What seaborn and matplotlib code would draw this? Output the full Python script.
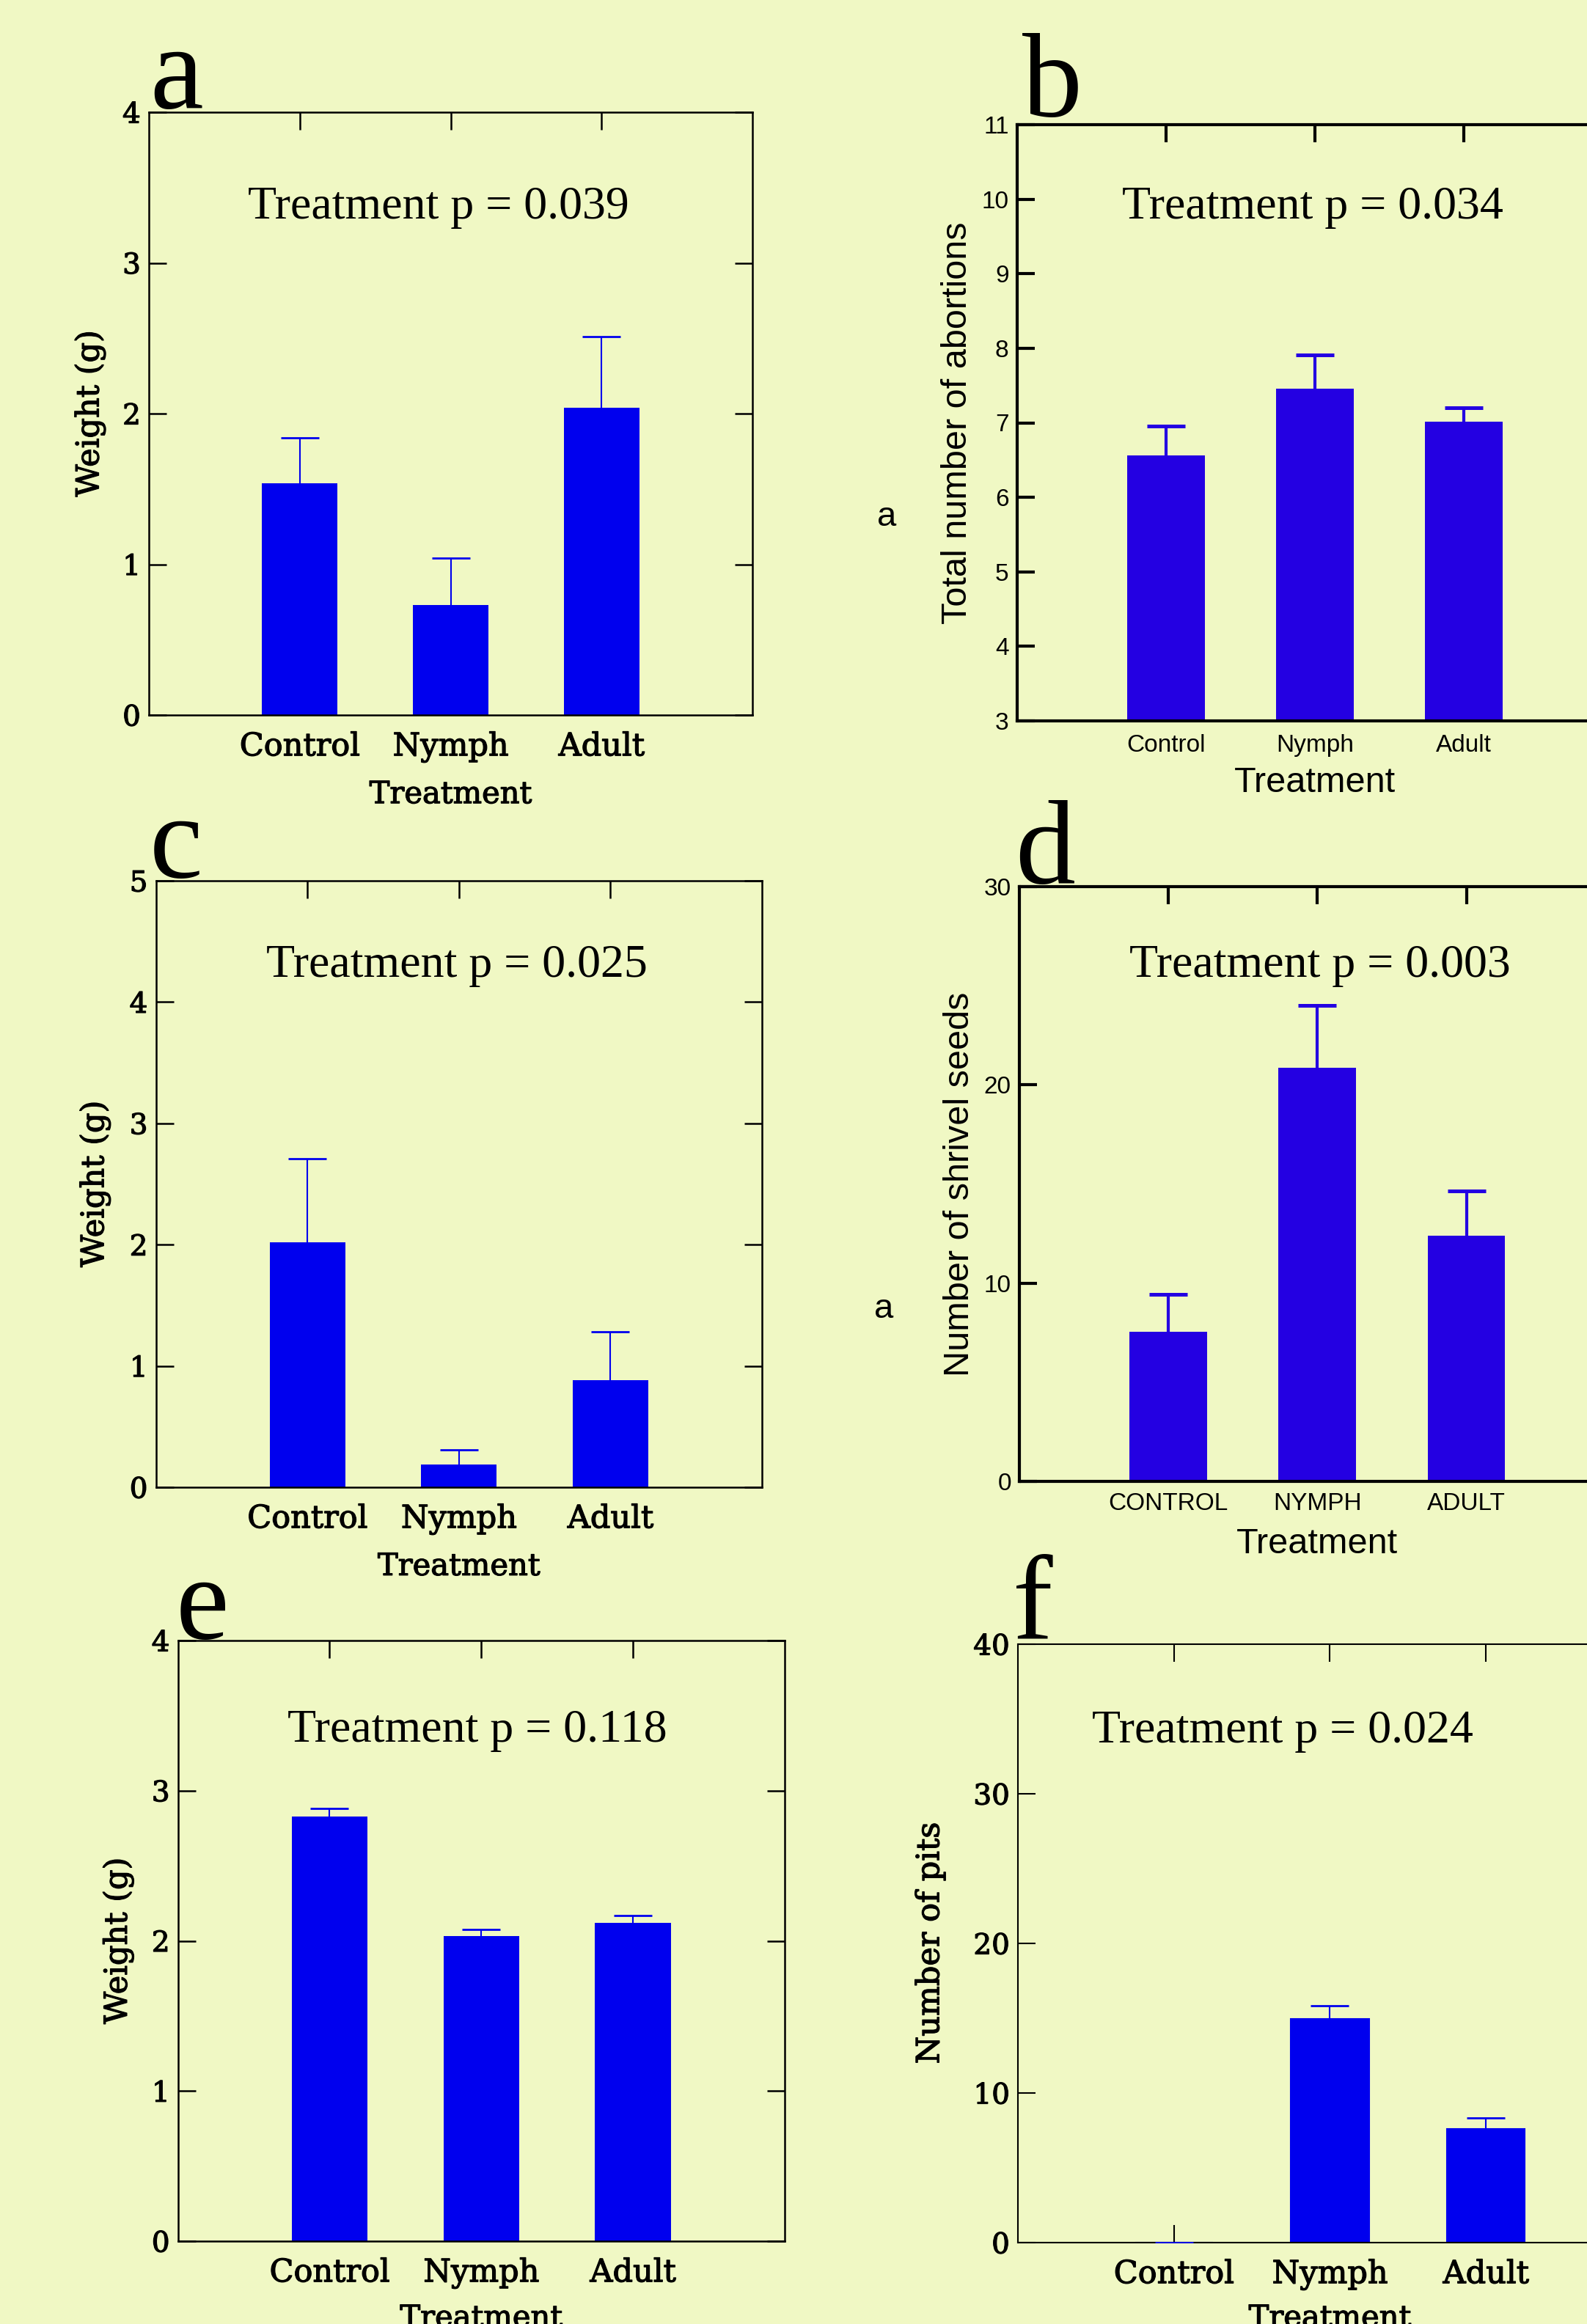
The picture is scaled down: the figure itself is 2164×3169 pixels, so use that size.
import matplotlib
matplotlib.use("Agg")
import matplotlib.pyplot as plt
import matplotlib.patheffects as pe
import seaborn as sns

# ---------------- data ----------------
treatments = ["Control", "Nymph", "Adult"]
treatments_caps = ["CONTROL", "NYMPH", "ADULT"]

a_mean = [1.54, 0.73, 2.04]
a_se = [0.30, 0.31, 0.47]
b_mean = [6.56, 7.46, 7.01]
b_se = [0.40, 0.45, 0.19]
c_mean = [2.02, 0.19, 0.88]
c_se = [0.69, 0.12, 0.40]
d_mean = [7.53, 20.87, 12.38]
d_se = [1.89, 3.13, 2.28]
e_mean = [2.83, 2.03, 2.12]
e_se = [0.05, 0.045, 0.05]
f_mean = [0.0, 14.95, 7.59]
f_se = [0.0, 0.89, 0.76]

p_values = {"a": "0.039", "b": "0.034", "c": "0.025", "d": "0.003", "e": "0.118", "f": "0.024"}

BG = "#F0F8C4"
BLUE = "#0000EE"
VIOLET = "#2400E2"
SLAB = "DejaVu Serif"
SANS = "Liberation Sans"
SERIF = "Liberation Serif"

W, H = 2164, 3169
fig = plt.figure(figsize=(W / 100, H / 100), dpi=100, facecolor=BG)

HEAVY = [pe.Stroke(linewidth=0.9, foreground="black"), pe.Normal()]


def add_axes(L, T, R, B):
    ax = fig.add_axes([L / W, 1 - B / H, (R - L) / W, (B - T) / H])
    ax.set_facecolor(BG)
    return ax


def panel(ax, cats, mean, se, color, ylim, yticks, ylabel, title, title_x, title_y,
          style, xlab_y, ylab_x, xpad, edge=0, slw=None):
    sns.barplot(x=cats, y=mean, ax=ax, color=color, saturation=1,
                width=0.5 if style == "slab" else 0.52,
                errorbar=None, linewidth=edge, edgecolor=color)
    zeros = [0] * len(mean)
    if style == "slab":
        elw, cth, cap, lw, tlen, font = 1.5, 2.0, 19, 1.8, 17.5, SLAB
        tfs, yfs, xlfs, ylfs = 31, 28, 30, 31
    else:
        elw, cth, cap, lw, tlen, font = 3.0, 3.6, 19, 3.0, 17.5, SANS
        tfs, yfs, xlfs, ylfs = 24, 24, 35, 35
    if slw is not None:
        lw = slw
    _, caplines, _ = ax.errorbar(x=list(range(len(mean))), y=mean, yerr=[zeros, se], fmt="none",
                                 ecolor=color, elinewidth=elw, capsize=cap, capthick=cth, zorder=3)
    # only the upper cap is drawn in the original
    if len(caplines) == 2:
        caplines[0].set_visible(False)
    ax.set_xlim(-1, 3)
    ax.set_ylim(*ylim)
    ax.set_yticks(yticks)
    ax.set_axisbelow(True)
    for s in ax.spines.values():
        s.set_linewidth(lw)
        s.set_color("black")
        s.set_visible(True)
    ax.tick_params(axis="both", direction="in", length=tlen, width=lw, color="black",
                   top=True, right=True, bottom=True, left=True)
    ax.tick_params(axis="x", pad=xpad, labelsize=tfs)
    ax.tick_params(axis="y", pad=8, labelsize=yfs)
    ax.set_xlabel("Treatment", fontfamily=font, fontsize=xlfs)
    ax.set_ylabel(ylabel, fontfamily=font, fontsize=ylfs)
    texts = ax.get_xticklabels() + ax.get_yticklabels()
    for lab in texts:
        lab.set_fontfamily(font)
    if style == "slab":
        for t in texts + [ax.xaxis.label, ax.yaxis.label]:
            t.set_path_effects(HEAVY)
    ax.xaxis.set_label_coords(0.5, xlab_y)
    ax.xaxis.label.set_va("top")
    ax.yaxis.set_label_coords(ylab_x, 0.5)
    ax.text(title_x, title_y, f"Treatment p = {title}", transform=ax.get_xaxis_transform(),
            ha="center", va="baseline", fontfamily=SERIF, fontsize=46)


ax_a = add_axes(203, 153, 1026, 975)
panel(ax_a, treatments, a_mean, a_se, BLUE, (0, 4), [0, 1, 2, 3, 4], "Weight (g)", p_values["a"],
      0.92, 0.824, "slab", -0.106, -0.0717, 16)

ax_b = add_axes(1386.7, 170, 2198.8, 983)
panel(ax_b, treatments, b_mean, b_se, VIOLET, (3, 11), list(range(3, 12)), "Total number of abortions",
      p_values["b"], 0.985, 0.843, "sans", -0.0763, -0.0726, 13)

ax_c = add_axes(212.6, 1201, 1039, 2028)
panel(ax_c, treatments, c_mean, c_se, BLUE, (0, 5), [0, 1, 2, 3, 4, 5], "Weight (g)", p_values["c"],
      0.985, 0.841, "slab", -0.105, -0.0748, 16)

ax_d = add_axes(1389.9, 1209, 2202.7, 2020)
panel(ax_d, treatments_caps, d_mean, d_se, VIOLET, (0, 30), [0, 10, 20, 30], "Number of shrivel seeds",
      p_values["d"], 1.018, 0.848, "sans", -0.0777, -0.0721, 11)

ax_e = add_axes(242.7, 2237, 1069.8, 3056)
panel(ax_e, treatments, e_mean, e_se, BLUE, (0, 4), [0, 1, 2, 3, 4], "Weight (g)", p_values["e"],
      0.974, 0.831, "slab", -0.1026, -0.0729, 16)

ax_f = add_axes(1388, 2242, 2238.9, 3058)
panel(ax_f, treatments, f_mean, f_se, BLUE, (0, 40), [0, 10, 20, 30, 40], "Number of pits",
      p_values["f"], 0.697, 0.836, "slab", -0.1005, -0.116, 16, edge=1.5, slw=1.5)

# panel letters
letters = [("a", 204, 147), ("b", 1394, 158), ("c", 204, 1196), ("d", 1384, 1204),
           ("e", 240, 2234), ("f", 1381, 2234)]
for t, x, y in letters:
    fig.text(x / W, 1 - y / H, t, fontfamily=SERIF, fontsize=118, ha="left", va="baseline")

# stray labels beside panels b and d
for x, y in [(1209, 705), (1205, 1785)]:
    fig.text(x / W, 1 - y / H, "a", fontfamily=SANS, fontsize=34, ha="center", va="center")

fig.savefig("out.png", dpi=100, facecolor=BG)
